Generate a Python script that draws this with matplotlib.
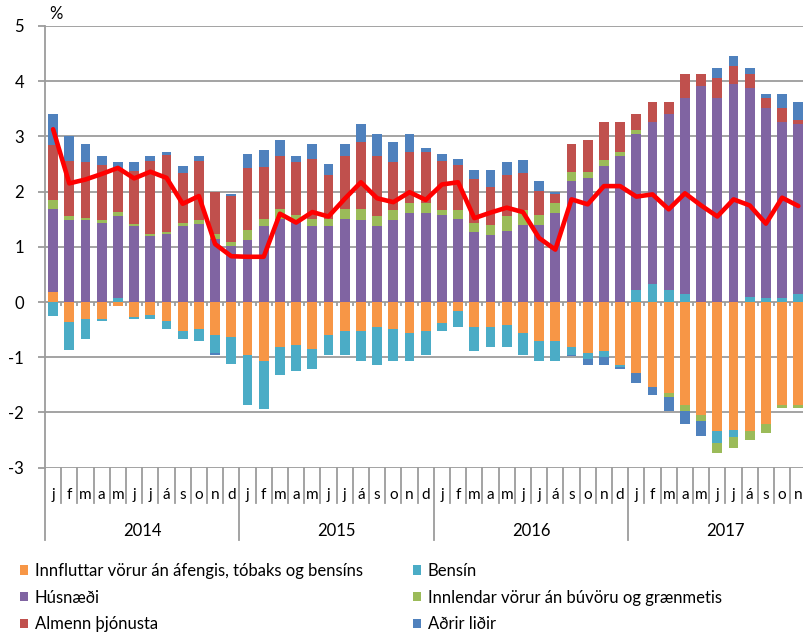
import matplotlib
matplotlib.use("Agg")
import matplotlib.pyplot as plt
from matplotlib.patches import Patch
import numpy as np

plt.rcParams['font.family'] = ['Lato', 'DejaVu Sans']

months = ['j', 'f', 'm', 'a', 'm', 'j', 'j', 'á', 's', 'o', 'n', 'd']
years = ['2014', '2015', '2016', '2017']

labels = ['Innfluttar vörur án áfengis, tóbaks og bensíns', 'Bensín', 'Húsnæði',
          'Innlendar vörur án búvöru og grænmetis', 'Almenn þjónusta', 'Aðrir liðir']
colors = ['#F79646', '#4BACC6', '#8064A2', '#9BBB59', '#C0504D', '#4F81BD']

innflutt = [0.18, -0.37, -0.30, -0.30, -0.08, -0.27, -0.23, -0.34, -0.52, -0.49, -0.60, -0.63,
            -0.96, -1.07, -0.81, -0.78, -0.85, -0.60, -0.52, -0.52, -0.45, -0.49, -0.56, -0.52,
            -0.38, -0.16, -0.45, -0.45, -0.41, -0.56, -0.70, -0.70, -0.81, -0.92, -0.89, -1.14,
            -1.29, -1.54, -1.65, -1.87, -2.05, -2.34, -2.31, -2.34, -2.20, -1.87, -1.87]
bensin = [-0.25, -0.50, -0.36, -0.04, 0.07, -0.03, -0.07, -0.15, -0.15, -0.21, -0.32, -0.50,
          -0.90, -0.86, -0.51, -0.46, -0.36, -0.35, -0.43, -0.54, -0.69, -0.57, -0.50, -0.43,
          -0.14, -0.29, -0.44, -0.36, -0.40, -0.40, -0.37, -0.37, -0.14, -0.11, -0.11, -0.04,
          0.21, 0.32, 0.21, 0.14, 0.0, -0.22, -0.14, 0.10, 0.07, 0.07, 0.14]
husnaedi = [1.51, 1.48, 1.48, 1.44, 1.48, 1.37, 1.19, 1.23, 1.37, 1.41, 1.15, 1.01,
            1.12, 1.37, 1.51, 1.48, 1.37, 1.37, 1.51, 1.48, 1.37, 1.48, 1.62, 1.62,
            1.58, 1.51, 1.26, 1.22, 1.29, 1.40, 1.40, 1.62, 2.20, 2.24, 2.46, 2.64,
            2.83, 2.94, 3.20, 3.56, 3.92, 3.70, 3.95, 3.78, 3.45, 3.19, 3.08]
innlendar = [0.15, 0.07, 0.04, 0.04, 0.08, 0.04, 0.04, 0.03, 0.07, 0.07, 0.08, 0.07,
             0.18, 0.14, 0.18, 0.10, 0.14, 0.14, 0.18, 0.21, 0.18, 0.18, 0.18, 0.18,
             0.08, 0.15, 0.18, 0.18, 0.26, 0.26, 0.18, 0.18, 0.15, 0.11, 0.11, 0.07,
             0.07, 0.0, -0.07, -0.11, -0.11, -0.18, -0.19, -0.15, -0.18, -0.04, -0.04]
thjonusta = [1.01, 1.01, 1.01, 1.01, 0.80, 0.97, 1.33, 1.41, 0.90, 1.08, 0.76, 0.84,
             1.12, 0.94, 0.95, 0.95, 1.09, 0.80, 0.95, 1.20, 1.09, 0.87, 0.91, 0.91,
             0.90, 0.83, 0.79, 0.69, 0.76, 0.68, 0.44, 0.15, 0.51, 0.58, 0.69, 0.55,
             0.30, 0.36, 0.21, 0.43, 0.21, 0.36, 0.33, 0.25, 0.18, 0.26, 0.08]
adrir = [0.56, 0.44, 0.33, 0.15, 0.10, 0.15, 0.08, 0.04, 0.12, 0.08, -0.03, 0.03,
         0.26, 0.30, 0.29, 0.11, 0.26, 0.19, 0.22, 0.33, 0.40, 0.37, 0.33, 0.08,
         0.12, 0.11, 0.16, 0.30, 0.22, 0.23, 0.18, 0.04, -0.03, -0.11, -0.14, -0.03,
         -0.18, -0.15, -0.26, -0.22, -0.26, 0.18, 0.18, 0.11, 0.07, 0.25, 0.32]
verdbolga = [3.13, 2.15, 2.22, 2.32, 2.43, 2.24, 2.36, 2.25, 1.78, 1.92, 1.05, 0.83,
             0.82, 0.82, 1.60, 1.44, 1.63, 1.55, 1.87, 2.17, 1.88, 1.81, 1.99, 1.85,
             2.13, 2.17, 1.52, 1.62, 1.71, 1.63, 1.16, 0.95, 1.86, 1.77, 2.10, 2.10,
             1.91, 1.95, 1.68, 1.97, 1.75, 1.55, 1.86, 1.75, 1.42, 1.89, 1.74]

series = [innflutt, bensin, husnaedi, innlendar, thjonusta, adrir]
n = len(verdbolga)
x = np.arange(n)

W, H = 804, 632
fig = plt.figure(figsize=(W / 100, H / 100), dpi=100)
ax_left, ax_bottom_px, ax_top_px = 45, 467.7, 26.0
ax = fig.add_axes([ax_left / W, 1 - ax_bottom_px / H, 1 - ax_left / W, (ax_bottom_px - ax_top_px) / H])

grid_c = '#9C9C9C'
pos = np.zeros(n)
neg = np.zeros(n)
for vals, c in zip(series, colors):
    v = np.array(vals)
    bottom = np.where(v >= 0, pos, neg)
    ax.bar(x, v, bottom=bottom, width=0.6, color=c, zorder=3)
    pos = pos + np.where(v >= 0, v, 0)
    neg = neg + np.where(v < 0, v, 0)

ax.plot(x, verdbolga, color='#FF0000', lw=3.3, zorder=5, solid_joinstyle='round', solid_capstyle='round')

ax.set_xlim(-0.5, 46.35)
ax.set_ylim(-3, 5)
ax.set_yticks(range(-3, 6))
ax.set_yticklabels([str(v) for v in range(-3, 6)], fontsize=12)
ax.yaxis.grid(True, color=grid_c, lw=1.3, zorder=1)
ax.set_axisbelow(True)
ax.tick_params(axis='y', length=5, width=1.3, color=grid_c, pad=10)
ax.set_xticks([])
for s in ['top', 'right', 'bottom']:
    ax.spines[s].set_visible(False)
ax.spines['left'].set_color(grid_c)
ax.spines['left'].set_linewidth(1.3)

# small ticks on the zero line
ax.vlines(np.arange(0.5, n + 1, 1.0), -0.075, 0, color=grid_c, lw=1.3, zorder=2)

tr = ax.get_xaxis_transform()
hpx = ax_bottom_px - ax_top_px
def ay(ypx):
    return (ax_bottom_px - ypx) / hpx

for i in range(n):
    ax.text(i, ay(495), months[i % 12], transform=tr, ha='center', va='center',
            fontsize=11, clip_on=False)
for b in np.arange(0.5, n + 1, 1.0):
    yb = ay(540) if (b + 0.5) % 12 == 0 else ay(503)
    ax.plot([b, b], [0, yb], transform=tr, color=grid_c, lw=1.3, clip_on=False)
ax.plot([-0.5, -0.5], [0, ay(540)], transform=tr, color=grid_c, lw=1.3, clip_on=False)
for k, yr in enumerate(years):
    ax.text(12 * k + 5.5, ay(531), yr, transform=tr, ha='center', va='center',
            fontsize=12, clip_on=False)

fig.text(49 / W, 1 - 14 / H, '%', fontsize=12, ha='left', va='center')

handles = [Patch(facecolor=c) for c in colors]
leg_kw = dict(frameon=False, fontsize=12, handlelength=0.48, handleheight=0.48,
              handletextpad=0.4, labelspacing=0.64, borderpad=0, borderaxespad=0,
              loc='upper left')
l1 = fig.legend([handles[0], handles[2], handles[4]], [labels[0], labels[2], labels[4]],
                bbox_to_anchor=(20 / W, 1 - 563 / H), **leg_kw)
l2 = fig.legend([handles[1], handles[3], handles[5]], [labels[1], labels[3], labels[5]],
                bbox_to_anchor=(413 / W, 1 - 563 / H), **leg_kw)

fig.savefig('out.png', dpi=100)
